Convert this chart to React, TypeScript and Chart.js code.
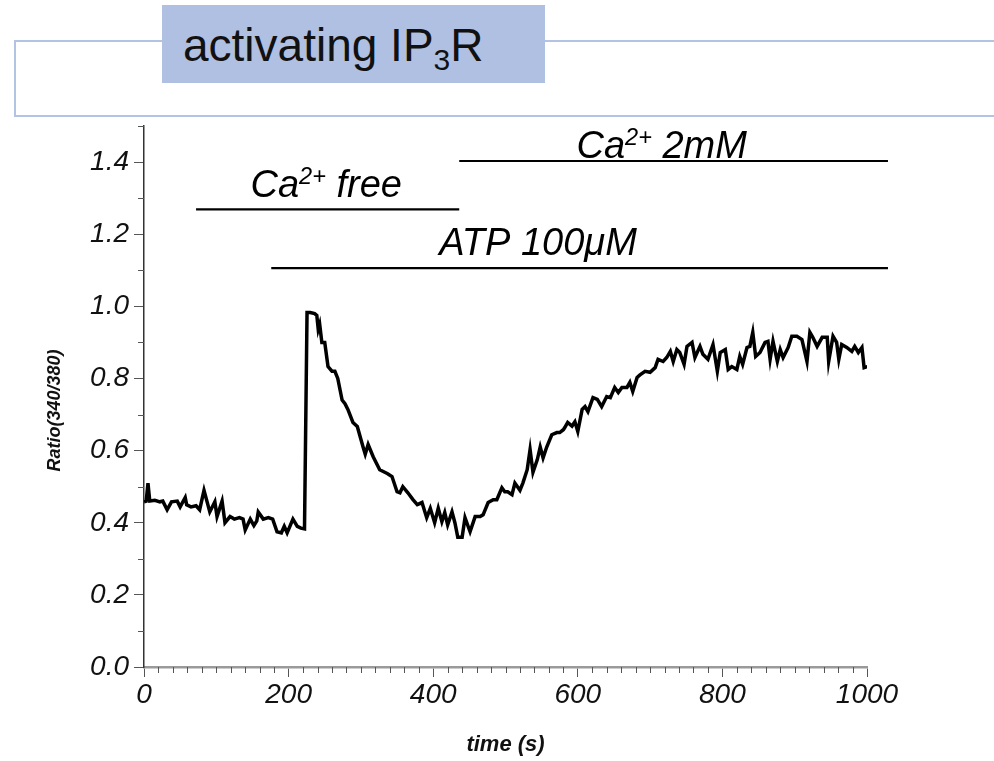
import React, { useEffect, useRef } from "react";
import { Chart, registerables } from "chart.js";

Chart.register(...registerables);

// ---------- data ----------
const timeSec = [
  0, 3, 5.5, 8, 15, 22, 26, 32, 38, 46, 50, 57, 59, 65, 72, 77, 83, 91, 98, 101,
  108, 112, 119, 125, 132, 137, 140, 147, 152, 156, 158, 165, 172, 178, 184, 190, 194, 198, 206, 212,
  217, 222, 225.5, 230, 236, 239, 241, 243, 246, 250, 254.5, 260, 264, 268, 274, 278, 282, 289, 295, 303,
  306, 310, 317, 326, 333, 337, 343, 350, 354, 358, 365, 372, 378, 384.5, 391, 396, 402, 407, 412, 416,
  420, 426, 430, 434, 440, 444, 451, 458, 465, 469, 476, 483, 488, 495, 499, 503, 509, 513, 520, 524,
  530, 534, 538, 544, 548, 552, 557, 564, 571, 575, 580, 582, 586, 592, 596, 600, 606, 610, 614, 621,
  627, 633, 640, 645, 651, 656, 661, 668, 672, 676, 682, 686, 693, 700, 707, 711, 718, 723, 728, 732,
  737, 741, 747, 751, 758, 762, 769, 773, 780, 787, 793, 797, 804, 808, 813, 820, 824, 828, 834, 838,
  842, 846, 852, 859, 863, 866, 870, 876, 880, 884, 891, 896, 903, 910, 917, 921, 925, 931, 938, 945,
  947, 953, 958, 961, 965, 972, 979, 983, 988, 993, 996, 1001,
];
const ratio = [
  0.458, 0.46, 0.51, 0.46, 0.462, 0.458, 0.46, 0.436, 0.458, 0.46, 0.444, 0.47, 0.45, 0.444, 0.447, 0.436, 0.49, 0.43, 0.458, 0.417,
  0.46, 0.4, 0.417, 0.41, 0.414, 0.41, 0.38, 0.41, 0.392, 0.405, 0.43, 0.41, 0.414, 0.41, 0.375, 0.372, 0.39, 0.372, 0.41, 0.39,
  0.385, 0.383, 0.983, 0.983, 0.98, 0.975, 0.936, 0.95, 0.9, 0.9, 0.833, 0.82, 0.82, 0.8, 0.74, 0.73, 0.714, 0.678, 0.667, 0.61,
  0.59, 0.617, 0.583, 0.547, 0.54, 0.536, 0.528, 0.486, 0.483, 0.5, 0.483, 0.464, 0.45, 0.456, 0.414, 0.44, 0.4, 0.44, 0.403, 0.428,
  0.394, 0.43, 0.4, 0.36, 0.36, 0.414, 0.375, 0.417, 0.417, 0.422, 0.456, 0.464, 0.464, 0.497, 0.486, 0.486, 0.478, 0.51, 0.49, 0.51,
  0.547, 0.603, 0.54, 0.575, 0.61, 0.58, 0.61, 0.644, 0.65, 0.65, 0.658, 0.664, 0.678, 0.668, 0.68, 0.653, 0.714, 0.722, 0.708, 0.747,
  0.742, 0.722, 0.75, 0.747, 0.775, 0.761, 0.775, 0.775, 0.789, 0.764, 0.803, 0.81, 0.82, 0.817, 0.83, 0.853, 0.847, 0.858, 0.875, 0.847,
  0.88, 0.872, 0.839, 0.889, 0.9, 0.858, 0.889, 0.867, 0.853, 0.894, 0.82, 0.872, 0.88, 0.825, 0.833, 0.825, 0.861, 0.839, 0.886, 0.889,
  0.928, 0.861, 0.872, 0.9, 0.903, 0.853, 0.903, 0.847, 0.88, 0.858, 0.886, 0.917, 0.917, 0.908, 0.847, 0.928, 0.914, 0.889, 0.914, 0.914,
  0.847, 0.917, 0.9, 0.853, 0.894, 0.886, 0.875, 0.889, 0.872, 0.886, 0.83, 0.833,
];

// treatment bars (time in s, level in ratio units)
const barNames = ["Ca^2+^ 2mM", "Ca^2+^ free", "ATP 100μM"];
const barStart = [436, 72, 176];
const barEnd = [1029, 436, 1029];
const barLevel = [1.403, 1.269, 1.106];
const barLabelCenter = [716, 252, 545];
const barLabelBase = [1.412, 1.303, 1.142];

const xMajorTicks = [0, 200, 400, 600, 800, 1000];
const xTickLabels = ["0", "200", "400", "600", "800", "1000"];
const yMajorTicks = [0, 0.2, 0.4, 0.6, 0.8, 1.0, 1.2, 1.4];
const yTickLabels = ["0.0", "0.2", "0.4", "0.6", "0.8", "1.0", "1.2", "1.4"];

const chartTitle = "activating IP";
const xTitle = "time (s)";
const yTitle = "Ratio(340/380)";
const yTitleAt = 0.711;

const FONT = '"Liberation Sans", Arial, Helvetica, sans-serif';

function drawRich(ctx: CanvasRenderingContext2D, text: string, cx: number, base: number, size: number) {
  const parts = text.split("^");
  const fonts = parts.map((_, i) => (i % 2 ? `italic ${size * 0.62}px ${FONT}` : `italic ${size}px ${FONT}`));
  const widths = parts.map((p, i) => {
    ctx.font = fonts[i];
    return ctx.measureText(p).width;
  });
  const total = widths.reduce((a, b) => a + b, 0);
  let xpos = cx - total / 2;
  parts.forEach((p, i) => {
    ctx.font = fonts[i];
    ctx.fillText(p, xpos, i % 2 ? base - size * 0.34 : base);
    xpos += widths[i];
  });
}

const decorPlugin = {
  id: "decor",
  afterDraw(chart: any) {
    const { ctx } = chart;
    const x = chart.scales.x;
    const y = chart.scales.y;
    ctx.save();
    // minor ticks
    ctx.strokeStyle = "#555";
    ctx.lineWidth = 1;
    ctx.beginPath();
    for (let v = 20; v < 1000; v += 20) {
      if (v % 200 === 0) continue;
      const px = Math.round(x.getPixelForValue(v)) + 0.5;
      ctx.moveTo(px, y.bottom);
      ctx.lineTo(px, y.bottom + 6);
    }
    for (let k = 1; k <= 15; k += 2) {
      const py = Math.round(y.getPixelForValue(k / 10)) + 0.5;
      ctx.moveTo(x.left - 6, py);
      ctx.lineTo(x.left, py);
    }
    ctx.stroke();

    // treatment labels
    ctx.fillStyle = "#000";
    ctx.textAlign = "left";
    ctx.textBaseline = "alphabetic";
    barNames.forEach((name, i) => {
      drawRich(ctx, name, x.getPixelForValue(barLabelCenter[i]), y.getPixelForValue(barLabelBase[i]), 38);
    });

    // y title
    ctx.translate(55, y.getPixelForValue(yTitleAt));
    ctx.rotate(-Math.PI / 2);
    ctx.font = `italic bold 18px ${FONT}`;
    ctx.textAlign = "center";
    ctx.textBaseline = "middle";
    ctx.fillStyle = "#111";
    ctx.fillText(yTitle, 0, 0);
    ctx.restore();
  },
};

export default function App() {
  const ref = useRef<HTMLCanvasElement | null>(null);

  useEffect(() => {
    if (!ref.current) return;
    const trace = timeSec.map((t, i) => ({ x: t, y: ratio[i] }));
    const bars = barNames.map((name, i) => ({
      label: name,
      data: [
        { x: barStart[i], y: barLevel[i] },
        { x: barEnd[i], y: barLevel[i] },
      ],
      showLine: true,
      borderColor: "#000",
      borderWidth: 2.2,
      pointRadius: 0,
      clip: false as any,
    }));
    const chart = new Chart(ref.current, {
      type: "scatter",
      data: {
        datasets: [
          {
            label: "Ratio",
            data: trace,
            showLine: true,
            borderColor: "#000",
            borderWidth: 3.5,
            pointRadius: 0,
            tension: 0,
          },
          ...bars,
        ],
      },
      options: {
        animation: false,
        responsive: false,
        events: [],
        layout: { padding: { left: 0, right: 127, top: 126, bottom: 0 } },
        plugins: { legend: { display: false }, tooltip: { enabled: false } },
        scales: {
          x: {
            type: "linear",
            min: 0,
            max: 1000,
            afterFit: (s: any) => {
              s.height = 94;
            },
            afterBuildTicks: (s: any) => {
              s.ticks = xMajorTicks.map((v) => ({ value: v }));
            },
            ticks: {
              autoSkip: false,
              maxRotation: 0,
              padding: 1,
              color: "#111",
              font: { family: FONT, size: 28, style: "italic" },
              callback: (_v: any, i: number) => xTickLabels[i],
            },
            grid: { drawOnChartArea: false, drawTicks: true, tickLength: 10, color: "#555", tickWidth: 1 },
            border: { color: "#9a9a9a", width: 2.5 },
            title: {
              display: true,
              text: xTitle,
              color: "#111",
              font: { family: FONT, size: 22, style: "italic", weight: "bold" },
              padding: { top: 0, bottom: 3 },
            },
          },
          y: {
            type: "linear",
            min: 0,
            max: 1.5,
            afterFit: (s: any) => {
              s.width = 144;
            },
            afterBuildTicks: (s: any) => {
              s.ticks = yMajorTicks.map((v) => ({ value: v }));
            },
            ticks: {
              padding: 5,
              color: "#111",
              font: { family: FONT, size: 28, style: "italic" },
              callback: (_v: any, i: number) => yTickLabels[i],
            },
            grid: { drawOnChartArea: false, drawTicks: true, tickLength: 10, color: "#555", tickWidth: 1 },
            border: { color: "#333", width: 1.5 },
          },
        },
      },
      plugins: [decorPlugin],
    });
    return () => chart.destroy();
  }, []);

  const frame = "#b3c3e4";
  return (
    <div style={{ position: "fixed", left: 0, top: 0, width: 994, height: 761, background: "#fff", overflow: "hidden" }}>
      <canvas ref={ref} width={994} height={761} style={{ position: "absolute", left: 0, top: 0 }} />
      <div style={{ position: "absolute", left: 14, top: 40, width: 148, height: 2, background: frame }} />
      <div style={{ position: "absolute", left: 545, top: 40, width: 449, height: 2, background: frame }} />
      <div style={{ position: "absolute", left: 14, top: 40, width: 2, height: 77, background: frame }} />
      <div style={{ position: "absolute", left: 14, top: 115, width: 980, height: 2, background: frame }} />
      <div
        style={{
          position: "absolute",
          left: 162,
          top: 5,
          width: 383,
          height: 78,
          background: "#b0c0e2",
          boxSizing: "border-box",
          paddingLeft: 21,
          fontFamily: FONT,
          fontSize: 46,
          lineHeight: "80px",
          color: "#111",
          whiteSpace: "nowrap",
        }}
      >
        {chartTitle}
        <span style={{ fontSize: 30, verticalAlign: "-9px", lineHeight: 0 }}>3</span>R
      </div>
    </div>
  );
}
